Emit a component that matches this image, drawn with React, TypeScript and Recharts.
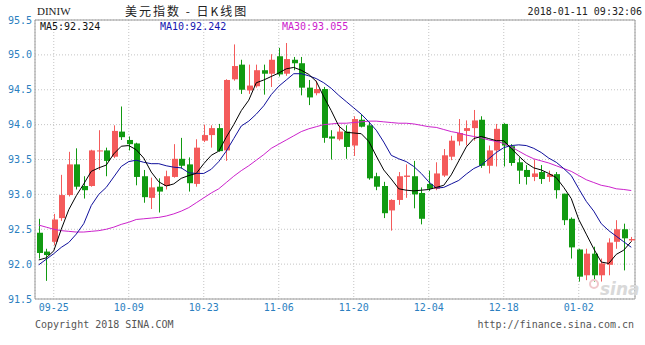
import { Bar, CartesianGrid, ComposedChart, Line, ReferenceArea, XAxis, YAxis } from "recharts";

// trading days shown on the chart (MM-DD)
const dates = [
	"09-21", "09-22", "09-25", "09-26", "09-27", "09-28", "09-29",
	"10-02", "10-03", "10-04", "10-05", "10-06",
	"10-09", "10-10", "10-11", "10-12", "10-13",
	"10-16", "10-17", "10-18", "10-19", "10-20",
	"10-23", "10-24", "10-25", "10-26", "10-27",
	"10-30", "10-31", "11-01", "11-02", "11-03",
	"11-06", "11-07", "11-08", "11-09", "11-10",
	"11-13", "11-14", "11-15", "11-16", "11-17",
	"11-20", "11-21", "11-22", "11-23", "11-24",
	"11-27", "11-28", "11-29", "11-30", "12-01",
	"12-04", "12-05", "12-06", "12-07", "12-08",
	"12-11", "12-12", "12-13", "12-14", "12-15",
	"12-18", "12-19", "12-20", "12-21", "12-22",
	"12-25", "12-26", "12-27", "12-28", "12-29",
	"01-02", "01-03", "01-04", "01-05",
	"01-08", "01-09", "01-10", "01-11",
];

const opens = [
	92.45, 92.18, 92.32, 92.66, 92.99, 93.43, 93.12, 93.12, 93.62, 93.63,
	93.54, 93.9, 93.78, 93.73, 93.26, 92.95, 93.11, 93.12, 93.25, 93.51,
	93.43, 93.15, 93.77, 93.85, 93.95, 93.63, 94.65, 94.86, 94.49, 94.55,
	94.78, 94.73, 94.98, 94.73, 94.93, 94.88, 94.53, 94.45, 94.51, 93.83,
	93.79, 93.9, 93.7, 94.07, 93.99, 93.26, 93.12, 92.77, 92.92, 93.25,
	93.26, 93.02, 93.15, 93.08, 93.27, 93.54, 93.76, 93.91, 93.95, 94.07,
	93.41, 93.63, 94.01, 93.69, 93.46, 93.35, 93.25, 93.32, 93.25, 93.29,
	93.01, 92.65, 92.21, 91.84, 92.15, 91.84, 91.99, 92.32, 92.5, 92.34,
];
const highs = [
	92.65, 92.22, 92.72, 93.28, 93.61, 93.66, 93.26, 93.64, 93.92, 93.67,
	93.99, 94.26, 93.83, 93.74, 93.35, 93.24, 93.23, 93.34, 93.72, 93.81,
	93.53, 93.79, 94.0, 93.99, 94.01, 94.65, 95.15, 94.93, 94.86, 94.86,
	94.86, 95.01, 95.1, 95.17, 94.97, 94.97, 94.64, 94.63, 94.54, 93.92,
	93.99, 93.99, 94.12, 94.15, 94.04, 93.31, 93.18, 92.93, 93.32, 93.43,
	93.48, 93.1, 93.34, 93.46, 93.65, 93.84, 94.08, 94.06, 94.21, 94.12,
	93.7, 94.01, 94.02, 93.72, 93.53, 93.42, 93.5, 93.42, 93.34, 93.32,
	93.01, 92.67, 92.22, 92.22, 92.25, 92.08, 92.37, 92.63, 92.58, 92.39,
];
const lows = [
	92.08, 91.76, 92.27, 92.62, 92.97, 93.07, 92.94, 93.11, 93.35, 93.26,
	93.52, 93.78, 93.63, 93.13, 92.88, 92.79, 92.74, 93.07, 93.24, 93.37,
	93.04, 93.11, 93.75, 93.67, 93.61, 93.48, 94.63, 94.44, 94.44, 94.53,
	94.43, 94.54, 94.69, 94.7, 94.78, 94.42, 94.28, 94.42, 93.74, 93.5,
	93.77, 93.51, 93.55, 93.96, 93.21, 93.06, 92.66, 92.48, 92.85, 92.95,
	92.8, 92.57, 93.05, 93.06, 93.25, 93.49, 93.7, 93.7, 93.77, 93.38,
	93.3, 93.4, 93.4, 93.41, 93.15, 93.14, 93.19, 93.15, 93.18, 92.94,
	92.56, 92.08, 91.75, 91.77, 91.75, 91.75, 91.84, 92.22, 91.91, 92.32,
];
const closes = [
	92.16, 92.13, 92.64, 92.99, 93.43, 93.11, 93.06, 93.63, 93.63, 93.48,
	93.91, 93.82, 93.72, 93.25, 92.96, 93.1, 93.04, 93.26, 93.51, 93.41,
	93.16, 93.67, 93.85, 93.95, 93.62, 94.64, 94.84, 94.5, 94.56, 94.78,
	94.73, 94.93, 94.72, 94.94, 94.88, 94.53, 94.39, 94.51, 93.81, 93.8,
	93.9, 93.68, 94.08, 93.97, 93.23, 93.11, 92.73, 92.92, 93.26, 93.27,
	93.0, 92.65, 93.08, 93.3, 93.56, 93.77, 93.88, 93.95, 94.06, 93.41,
	93.63, 93.94, 93.7, 93.45, 93.34, 93.25, 93.3, 93.22, 93.29, 93.06,
	92.63, 92.24, 91.82, 92.15, 91.84, 92.01, 92.31, 92.5, 92.37, 92.36,
];

const ma5 = [
	92.06, 92.09, 92.19, 92.5, 92.78, 92.98, 93.15, 93.33, 93.38, 93.42,
	93.58, 93.69, 93.7, 93.64, 93.52, 93.32, 93.18, 93.12, 93.15, 93.23,
	93.27, 93.3, 93.44, 93.56, 93.62, 93.82, 94.0, 94.2, 94.35, 94.6,
	94.64, 94.69, 94.74, 94.8, 94.82, 94.78, 94.72, 94.62, 94.4, 94.2,
	93.98, 93.89, 93.88, 93.87, 93.76, 93.55, 93.35, 93.22, 93.08, 93.06,
	93.05, 93.06, 93.07, 93.1, 93.13, 93.28, 93.48, 93.68, 93.8, 93.83,
	93.8, 93.77, 93.77, 93.66, 93.55, 93.45, 93.38, 93.35, 93.3, 93.24,
	93.1, 92.94, 92.64, 92.43, 92.22, 92.03, 92.01, 92.14, 92.2, 92.324,
];
const ma10 = [
	91.99, 92.07, 92.15, 92.24, 92.31, 92.43, 92.58, 92.84, 93.0, 93.1,
	93.25, 93.4, 93.47, 93.49, 93.46, 93.44, 93.44, 93.41, 93.39, 93.38,
	93.31, 93.3, 93.3, 93.36, 93.47, 93.62, 93.8, 93.98, 94.05, 94.15,
	94.27, 94.43, 94.55, 94.64, 94.73, 94.73, 94.7, 94.66, 94.6, 94.52,
	94.42, 94.33, 94.24, 94.15, 94.04, 93.92, 93.75, 93.56, 93.51, 93.47,
	93.4, 93.3, 93.18, 93.09, 93.1, 93.15, 93.2, 93.29, 93.37, 93.42,
	93.51, 93.6, 93.67, 93.7, 93.71, 93.7, 93.66, 93.6, 93.52, 93.46,
	93.37, 93.27, 93.08, 92.9, 92.76, 92.58, 92.48, 92.4, 92.32, 92.242,
];
const ma30 = [
	92.56, 92.53, 92.5, 92.48, 92.47, 92.46, 92.46, 92.47, 92.48, 92.5,
	92.53, 92.57, 92.6, 92.64, 92.65, 92.66, 92.67, 92.69, 92.72, 92.76,
	92.81, 92.88, 92.95, 93.02, 93.08, 93.17, 93.26, 93.34, 93.41, 93.49,
	93.57, 93.66, 93.72, 93.78, 93.84, 93.9, 93.94, 93.97, 94.0, 94.01,
	94.02, 94.02, 94.03, 94.04, 94.05, 94.05, 94.04, 94.03, 94.02, 94.02,
	94.01, 93.99, 93.97, 93.96, 93.93, 93.9, 93.88, 93.85, 93.83, 93.81,
	93.78, 93.76, 93.73, 93.68, 93.62, 93.56, 93.51, 93.48, 93.45, 93.41,
	93.37, 93.33, 93.27, 93.21, 93.17, 93.13, 93.11, 93.08, 93.07, 93.055,
];

const tickDates = ["09-25", "10-09", "10-23", "11-06", "11-20", "12-04", "12-18", "01-02"];
const priceTicks = [91.5, 92, 92.5, 93, 93.5, 94, 94.5, 95, 95.5];

const UP = "#f45b5b";
const DOWN = "#119a11";
const AXIS_TEXT = "#2b7fbf";
const MONO = "'DejaVu Sans Mono', monospace";

const rows = dates.map((date, i) => ({
	date,
	open: opens[i],
	high: highs[i],
	low: lows[i],
	close: closes[i],
	range: [lows[i], highs[i]],
	ma5: ma5[i],
	ma10: ma10[i],
	ma30: ma30[i],
}));

function Candle(props: any) {
	const { x, y, width, height, payload } = props;
	const top = Math.min(y, y + height);
	const bottom = Math.max(y, y + height);
	const span = payload.high - payload.low;
	const py = (v: number) =>
		span === 0 ? top : bottom - ((v - payload.low) / span) * (bottom - top);
	const up = payload.close >= payload.open;
	const color = up ? UP : DOWN;
	const cx = Math.floor(x + width / 2);
	const bTop = py(Math.max(payload.open, payload.close));
	const bBot = py(Math.min(payload.open, payload.close));
	return (
		<g>
			<line x1={cx + 0.5} x2={cx + 0.5} y1={top} y2={bottom} stroke={color} strokeWidth={1} />
			<rect x={cx - 2} y={bTop} width={6} height={Math.max(1, bBot - bTop)} fill={color} />
		</g>
	);
}

export default function App() {
	return (
		<div style={{ position: "absolute", left: 0, top: 0, width: 645, height: 345, background: "#fff" }}>
			<ComposedChart
				width={645}
				height={345}
				data={rows}
				margin={{ top: 20, right: 10, bottom: 0, left: 0 }}
			>
				<CartesianGrid stroke="#c4c4c4" strokeDasharray="1 2" />
				<XAxis
					dataKey="date"
					ticks={tickDates}
					interval={0}
					height={46}
					axisLine={false}
					tickLine={false}
					tickSize={0}
					tickMargin={5}
					tick={{ fill: AXIS_TEXT, fontSize: 10, fontFamily: MONO }}
				/>
				<YAxis
					domain={[91.5, 95.5]}
					ticks={priceTicks}
					width={35}
					axisLine={false}
					tickLine={false}
					tickSize={0}
					tickMargin={3}
					tickFormatter={(v) => Number(v).toFixed(1)}
					tick={{ fill: AXIS_TEXT, fontSize: 10, fontFamily: MONO }}
				/>
				<ReferenceArea
					x1={dates[0]}
					x2={dates[dates.length - 1]}
					y1={91.5}
					y2={95.5}
					fill="none"
					stroke="#9a9a9a"
					strokeWidth={1}
				/>
				<Bar dataKey="range" barSize={6} shape={Candle} isAnimationActive={false} />
				<Line type="linear" dataKey="ma30" stroke="#cc22cc" dot={false} strokeWidth={1} isAnimationActive={false} />
				<Line type="linear" dataKey="ma10" stroke="#10109c" dot={false} strokeWidth={1} isAnimationActive={false} />
				<Line type="linear" dataKey="ma5" stroke="#000" dot={false} strokeWidth={1} isAnimationActive={false} />
			</ComposedChart>
			<svg
				width={645}
				height={345}
				style={{ position: "absolute", left: 0, top: 0, pointerEvents: "none" }}
			>
				<text x={37} y={15} fontSize={11} fontFamily="'Liberation Serif', serif" fill="#222">DINIW</text>
				<text x={125} y={16} fontSize={12} letterSpacing={2} fontFamily="'Noto Sans CJK SC', sans-serif" fill="#222">美元指数 - 日K线图</text>
				<text x={642} y={15} textAnchor="end" fontSize={10} fontFamily={MONO} fill="#222">2018-01-11 09:32:06</text>
				<text x={40} y={30} fontSize={10} fontFamily={MONO} fill="#111">MA5:92.324</text>
				<text x={160} y={30} fontSize={10} fontFamily={MONO} fill="#1515b0">MA10:92.242</text>
				<text x={282} y={30} fontSize={10} fontFamily={MONO} fill="#cc22cc">MA30:93.055</text>
				<circle cx={594} cy={284} r={4} fill="none" stroke="#f0c8cc" strokeWidth={2} />
				<text x={600} y={295} fontSize={17} fontStyle="italic" fontWeight="bold" fontFamily="'DejaVu Sans', sans-serif" fill="#d9d9d9">sina</text>
				<text x={35} y={328} fontSize={10} fontFamily={MONO} fill="#555">Copyright 2018 SINA.COM</text>
				<text x={634} y={328} textAnchor="end" fontSize={10} fontFamily={MONO} fill="#555">http://finance.sina.com.cn</text>
			</svg>
		</div>
	);
}
